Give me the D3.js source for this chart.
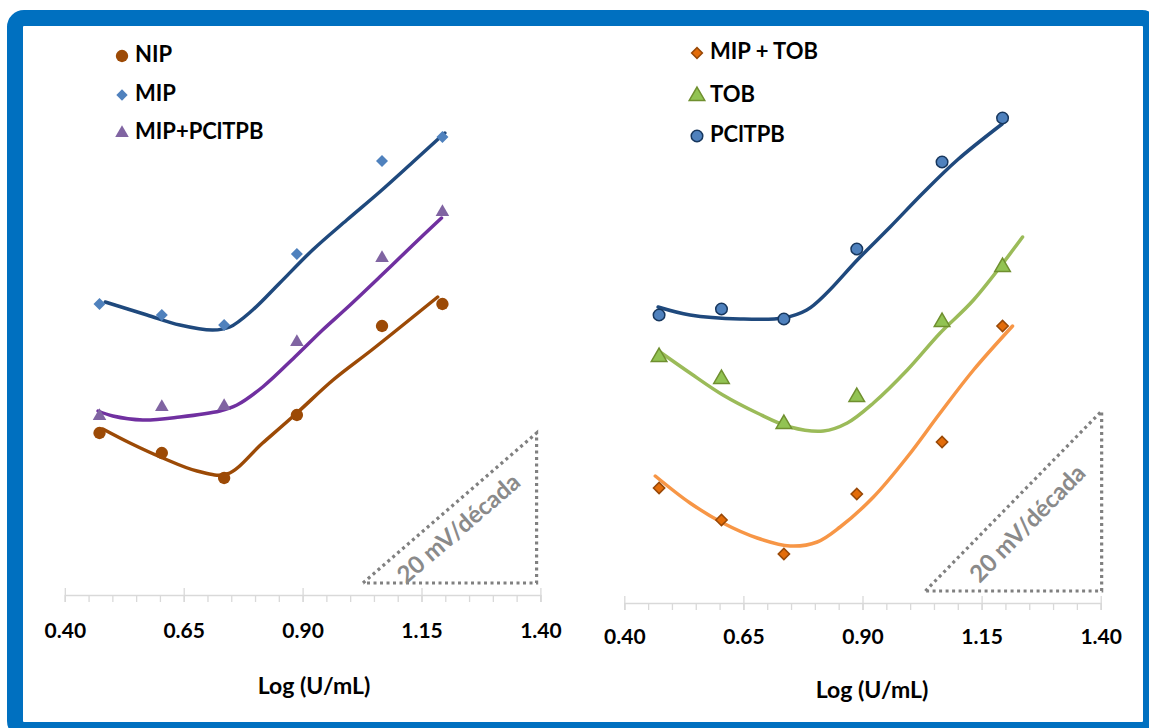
<!DOCTYPE html>
<html>
<head>
<meta charset="utf-8">
<script src="https://cdn.jsdelivr.net/npm/d3@7"></script>
<style>
	body { margin: 0; background: #ffffff; }
	text { font-family: Lato, "Open Sans", sans-serif; }
</style>
</head>
<body>
<script>
//-----------------------------------------------------------------------------------------------------------------DATA

// log of concentration (U/mL), same six standards in both panels
var logConc = [0.473, 0.604, 0.735, 0.888, 1.067, 1.194]

// x axis ticks
var majorTicks = [0.40, 0.65, 0.90, 1.15, 1.40]
var minorTicks = [0.40, 0.45, 0.50, 0.55, 0.60, 0.65, 0.70, 0.75, 0.80, 0.85, 0.90, 0.95, 1.00, 1.05, 1.10, 1.15, 1.20, 1.25, 1.30, 1.35, 1.40]

// left panel, relative potential (mV, arbitrary zero)
var nip        = [16.2, 14.2, 11.7, 18.0, 26.9, 29.1]
var mip        = [29.1, 28.0, 27.0, 34.1, 43.4, 45.8]
var mipPcltpb  = [17.9, 18.8, 18.9, 25.3, 33.7, 38.3]

// right panel
var mipTob     = [11.5, 8.3, 4.9, 10.9, 16.1, 27.7]
var tob        = [24.6, 22.4, 17.9, 20.6, 28.1, 33.6]
var pcltpb     = [28.8, 29.4, 28.4, 35.4, 44.1, 48.5]

// trend lines [log, mV]
var nipFit = [[0.480,16.6],[0.537,15.2],[0.606,13.7],[0.678,12.4],[0.741,12.1],[0.816,15.2],[0.888,18.2],[0.964,21.5],[1.048,24.6],[1.184,29.8]]
var mipFit = [[0.485,29.3],[0.573,28.0],[0.642,27.0],[0.711,26.5],[0.747,26.8],[0.795,28.5],[0.852,31.2],[0.921,34.5],[0.993,37.5],[1.062,40.3],[1.132,43.3],[1.199,46.2]]
var mipPcltpbFit = [[0.470,18.4],[0.501,17.9],[0.564,17.5],[0.642,17.8],[0.726,18.4],[0.762,19.0],[0.816,20.8],[0.888,24.0],[0.942,26.5],[0.993,28.7],[1.062,31.8],[1.132,35.0],[1.192,37.7]]

var mipTobFit = [[0.465,12.7],[0.538,10.0],[0.607,8.0],[0.679,6.5],[0.748,5.7],[0.805,6.1],[0.853,7.6],[0.923,10.6],[0.994,14.6],[1.063,19.0],[1.133,23.3],[1.215,27.7]]
var tobFit = [[0.475,25.1],[0.538,23.0],[0.607,20.8],[0.679,19.0],[0.748,17.6],[0.818,17.2],[0.868,18.0],[0.923,20.0],[0.994,23.3],[1.063,27.0],[1.133,30.3],[1.236,36.6]]
var pcltpbFit = [[0.471,29.6],[0.538,28.8],[0.643,28.4],[0.733,28.5],[0.783,29.3],[0.825,31.0],[0.889,34.3],[0.958,37.6],[1.027,41.0],[1.099,44.3],[1.193,47.9]]

// slope guides [x0, y0, x1, y1]
var slopeLeft  = [1.027, 1.2, 1.392, 16.2]
var slopeRight = [1.032, 1.2, 1.402, 19.2]
var slopeLabel = "20 mV/década"

//-----------------------------------------------------------------------------------------------------------------SVG

var W = 1149, H = 728
var svg = d3.select("body").append("svg").attr("width", W).attr("height", H)

svg.append("rect").attr("width", W).attr("height", H).attr("fill", "#ffffff")

// blue frame
svg.append("rect")
	.attr("x", 15).attr("y", 18)
	.attr("width", 1136).attr("height", 712)
	.attr("rx", 9)
	.attr("fill", "none")
	.attr("stroke", "#0070c0")
	.attr("stroke-width", 16)

//-----------------------------------------------------------------------------------------------------------------PANEL

function panel(opt){
	var x = d3.scaleLinear().domain([0.4, 1.4]).range([opt.x0, opt.x1])
	var y = d3.scaleLinear().domain([0, 50]).range([opt.axisY, opt.axisY - 500])
	var g = svg.append("g")

	// minor ticks
	var minor = g.append("g").attr("transform", "translate(0," + opt.axisY + ")")
		.call(d3.axisBottom(x).tickValues(minorTicks).tickSize(7).tickFormat(""))
	minor.select(".domain").attr("stroke", "#d9d9d9").attr("stroke-width", 1.3)
	minor.selectAll(".tick line").attr("stroke", "#d9d9d9").attr("stroke-width", 1.3)

	// major ticks + labels
	var major = g.append("g").attr("transform", "translate(0," + opt.axisY + ")")
		.call(d3.axisBottom(x).tickValues(majorTicks).tickSize(7).tickPadding(opt.pad).tickFormat(d3.format(".2f")))
	major.select(".domain").remove()
	major.selectAll(".tick line").attr("y1", -7).attr("stroke", "#d9d9d9").attr("stroke-width", 1.3)
	major.selectAll(".tick text")
		.attr("fill", "#000000")
		.style("font-size", "21px")
		.style("font-weight", "bold")
		.style("font-family", "Lato, 'Open Sans', sans-serif")

	g.append("text")
		.attr("x", opt.titleX).attr("y", opt.titleY)
		.attr("text-anchor", "middle")
		.attr("dominant-baseline", "middle")
		.style("font-size", "23px").style("font-weight", "bold")
		.text("Log (U/mL)")

	// slope triangle
	var s = opt.slope
	var tri = [[s[0], s[1]], [s[2], s[3]], [s[2], s[1]], [s[0], s[1]]]
	g.append("path")
		.attr("d", d3.line().x(function(d){ return x(d[0]) }).y(function(d){ return y(d[1]) })(tri))
		.attr("fill", "none")
		.attr("stroke", "#808080")
		.attr("stroke-width", 3.2)
		.attr("stroke-dasharray", "3,3.5")

	var ang = Math.atan2(y(s[3]) - y(s[1]), x(s[2]) - x(s[0])) * 180 / Math.PI
	g.append("text")
		.attr("transform", "translate(" + opt.labelX + "," + opt.labelY + ") rotate(" + ang + ")")
		.attr("text-anchor", "middle")
		.attr("dominant-baseline", "middle")
		.attr("fill", "#8a8a8a")
		.style("font-size", "24px").style("font-weight", "bold")
		.text(slopeLabel)

	// series
	var line = d3.line().curve(d3.curveCatmullRom.alpha(0.5))
		.x(function(d){ return x(d[0]) }).y(function(d){ return y(d[1]) })

	opt.series.forEach(function(sr){
		g.append("path")
			.attr("d", line(sr.fit))
			.attr("fill", "none")
			.attr("stroke", sr.line)
			.attr("stroke-width", 3.5)
			.attr("stroke-linecap", "round")
	})

	opt.series.forEach(function(sr){
		var sym = d3.symbol().type(sr.shape).size(sr.size)
		g.selectAll(null).data(sr.values).enter().append("path")
			.attr("d", sym)
			.attr("transform", function(d, i){ return "translate(" + x(logConc[i]) + "," + y(d) + ")" + (sr.rot ? " rotate(45)" : "") })
			.attr("fill", sr.fill)
			.attr("stroke", sr.stroke || "none")
			.attr("stroke-width", sr.stroke ? 1.5 : 0)

		// legend
		var lg = g.append("g").attr("transform", "translate(" + opt.legX + "," + sr.legY + ")")
		lg.append("path")
			.attr("d", d3.symbol().type(sr.shape).size(sr.legSize || sr.size)())
			.attr("transform", sr.rot ? "rotate(45)" : null)
			.attr("fill", sr.fill)
			.attr("stroke", sr.stroke || "none")
			.attr("stroke-width", sr.stroke ? 1.5 : 0)
		lg.append("text")
			.attr("x", 13).attr("y", 0)
			.attr("dominant-baseline", "middle")
			.style("font-size", "22px").style("font-weight", "bold")
			.text(sr.name)
	})
}

panel({
	x0: 64.8, x1: 540.4, axisY: 595, pad: 21,
	titleX: 314, titleY: 688,
	slope: slopeLeft, labelX: 460, labelY: 530,
	legX: 122,
	series: [
		{ name: "NIP", values: nip, fit: nipFit, shape: d3.symbolCircle, size: 120, fill: "#9c4a06", line: "#9c4a06", legY: 56 },
		{ name: "MIP", values: mip, fit: mipFit, shape: d3.symbolSquare, size: 72, rot: true, legSize: 64, fill: "#4f81bd", line: "#1f497d", legY: 95 },
		{ name: "MIP+PClTPB", values: mipPcltpb, fit: mipPcltpbFit, shape: d3.symbolTriangle, size: 80, fill: "#8064a2", line: "#7030a0", legY: 133 }
	]
})

panel({
	x0: 624.3, x1: 1100.7, axisY: 603, pad: 19,
	titleX: 872, titleY: 692,
	slope: slopeRight, labelX: 1029, labelY: 525,
	legX: 697,
	series: [
		{ name: "MIP + TOB", values: mipTob, fit: mipTobFit, shape: d3.symbolSquare, size: 64, rot: true, legSize: 58, fill: "#e36c09", stroke: "#984807", line: "#f79646", legY: 53 },
		{ name: "TOB", values: tob, fit: tobFit, shape: d3.symbolTriangle, size: 105, fill: "#92c353", stroke: "#6f8f2f", line: "#9bbb59", legY: 96 },
		{ name: "PClTPB", values: pcltpb, fit: pcltpbFit, shape: d3.symbolCircle, size: 105, fill: "#4f81bd", stroke: "#17375e", line: "#1f497d", legY: 136 }
	]
})
</script>
</body>
</html>
